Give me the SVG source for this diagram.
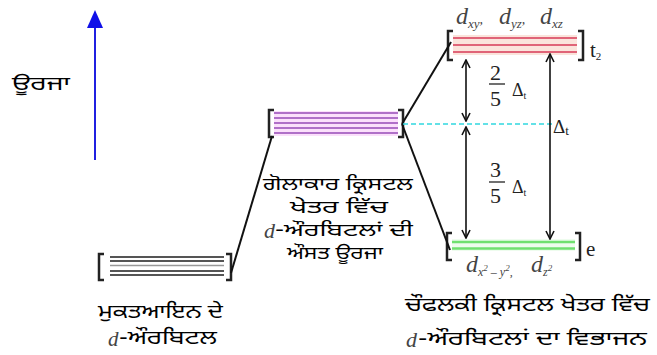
<svg xmlns="http://www.w3.org/2000/svg" width="657" height="355" viewBox="0 0 657 355">
<defs>
<style>
.pa{font-family:"Noto Sans Gurmukhi","Lohit Gurmukhi","Noto Sans","DejaVu Sans",sans-serif;font-size:19px;fill:#000}
.pm{font-size:18px}
.it{font-family:"Liberation Serif",serif;font-style:italic;fill:#444}
.sr{font-family:"Liberation Serif",serif;fill:#222}
.br{fill:none;stroke:#222;stroke-width:2.5}
.cn{stroke:#111;stroke-width:2;fill:none}
.ar{stroke:#111;stroke-width:1.6;fill:none}
</style>
<marker id="ah" viewBox="0 0 10 10" refX="9" refY="5" markerWidth="10" markerHeight="10" markerUnits="userSpaceOnUse" orient="auto-start-reverse">
<path d="M1,1 L9,5 L1,9" fill="none" stroke="#111" stroke-width="1.6"/>
</marker>
</defs>
<rect width="657" height="355" fill="#fff"/>

<g id="energy-axis">
<line x1="95" y1="160" x2="95" y2="26" stroke="#2020e0" stroke-width="2"/>
<polygon points="95,10 87,28 103,28" fill="#1010e8"/>
<text class="pa" x="12" y="90" font-size="22" textLength="58" lengthAdjust="spacingAndGlyphs">ਊਰਜਾ</text>
</g>

<g id="free-ion">
<path class="br" d="M104,254 H99 V280 H104"/>
<path class="br" d="M226,254 H231 V280 H226"/>
<g stroke="#555" stroke-width="2.2">
<line x1="110" y1="257" x2="224" y2="257"/>
<line x1="110" y1="261" x2="224" y2="261"/>
<line x1="110" y1="265.5" x2="224" y2="265.5" stroke="#999" stroke-width="1.4"/>
<line x1="110" y1="271" x2="224" y2="271"/>
<line x1="110" y1="275" x2="224" y2="275"/>
</g>
<text class="pa" x="98" y="318" textLength="125" lengthAdjust="spacingAndGlyphs">ਮੁਕਤਆਇਨ ਦੇ</text>
<text class="it" x="108" y="346" font-size="21">d</text>
<text class="pa" x="119" y="344" textLength="98" lengthAdjust="spacingAndGlyphs">-ਔਰਬਿਟਲ</text>
</g>

<g id="spherical">
<path class="br" d="M274,110 H269 V137 H274"/>
<path class="br" d="M398,110 H403 V137 H398"/>
<rect x="274" y="111" width="124" height="25" fill="#fbe0fb"/>
<g stroke="#b070c8" stroke-width="2">
<line x1="274" y1="113" x2="398" y2="113"/>
<line x1="274" y1="118" x2="398" y2="118"/>
<line x1="274" y1="123" x2="398" y2="123"/>
<line x1="274" y1="128" x2="398" y2="128"/>
<line x1="274" y1="133" x2="398" y2="133"/>
</g>
<text class="pa pm" x="263" y="190" textLength="150" lengthAdjust="spacingAndGlyphs">ਗੋਲਾਕਾਰ ਕ੍ਰਿਸਟਲ</text>
<text class="pa pm" x="290" y="213" textLength="98" lengthAdjust="spacingAndGlyphs">ਖੇਤਰ ਵਿੱਚ</text>
<text class="it" x="264" y="238" font-size="22">d</text>
<text class="pa pm" x="275" y="236" textLength="138" lengthAdjust="spacingAndGlyphs">-ਔਰਬਿਟਲਾਂ ਦੀ</text>
<text class="pa pm" x="287" y="259" textLength="96" lengthAdjust="spacingAndGlyphs">ਔਸਤ ਊਰਜਾ</text>
</g>

<g id="t2">
<path class="br" d="M453,31 H448 V60 H453"/>
<path class="br" d="M578,31 H583 V60 H578"/>
<rect x="453" y="35" width="124" height="20" fill="#fbe4dc"/>
<g stroke="#e06478" stroke-width="2.2">
<line x1="453" y1="38" x2="577" y2="38"/>
<line x1="453" y1="45" x2="577" y2="45"/>
<line x1="453" y1="52" x2="577" y2="52"/>
</g>
<text class="it" x="456" y="24" font-size="24">d<tspan font-size="13" dy="4">xy</tspan><tspan dy="-4" font-size="14">,</tspan></text>
<text class="it" x="499" y="24" font-size="24">d<tspan font-size="13" dy="4">yz</tspan><tspan dy="-4" font-size="14">,</tspan></text>
<text class="it" x="540" y="24" font-size="24">d<tspan font-size="13" dy="4">xz</tspan></text>
<text class="sr" x="590" y="57" font-size="21">t<tspan font-size="11" dy="3">2</tspan></text>
</g>

<g id="eg">
<path class="br" d="M452,233 H447 V260 H452"/>
<path class="br" d="M575,233 H580 V260 H575"/>
<rect x="452" y="239" width="123" height="12" fill="#eefcee"/>
<g stroke="#70e070" stroke-width="2.4">
<line x1="452" y1="242" x2="575" y2="242"/>
<line x1="452" y1="248.5" x2="575" y2="248.5"/>
</g>
<text class="sr" x="586" y="256" font-size="21">e</text>
<text class="it" x="466" y="272" font-size="24">d<tspan font-size="12" dy="4">x</tspan><tspan font-size="9" dy="-5">2</tspan><tspan font-size="12" dy="5"> – y</tspan><tspan font-size="9" dy="-5">2</tspan><tspan font-size="12" dy="5">,</tspan></text>
<text class="it" x="531" y="272" font-size="24">d<tspan font-size="12" dy="4">z</tspan><tspan font-size="9" dy="-5">2</tspan></text>
</g>

<g id="splitting-labels">
<text class="pa" x="405" y="311" textLength="245" lengthAdjust="spacingAndGlyphs">ਚੌਫਲਕੀ ਕ੍ਰਿਸਟਲ ਖੇਤਰ ਵਿੱਚ</text>
<text class="it" x="406" y="347" font-size="22">d</text>
<text class="pa" x="418" y="345" textLength="229" lengthAdjust="spacingAndGlyphs">-ਔਰਬਿਟਲਾਂ ਦਾ ਵਿਭਾਜਨ</text>
<text class="sr" x="490" y="80" font-size="22">2</text>
<line x1="489" y1="84" x2="505" y2="84" stroke="#222" stroke-width="1.3"/>
<text class="sr" x="490" y="106" font-size="22">5</text>
<text class="sr" x="512" y="96" font-size="18">Δ<tspan font-size="10" dy="3">t</tspan></text>
<text class="sr" x="490" y="177" font-size="22">3</text>
<line x1="489" y1="182" x2="505" y2="182" stroke="#222" stroke-width="1.3"/>
<text class="sr" x="490" y="203" font-size="22">5</text>
<text class="sr" x="512" y="193" font-size="18">Δ<tspan font-size="10" dy="3">t</tspan></text>
<text class="sr" x="553" y="133" font-size="19">Δ<tspan font-size="13" dy="2">t</tspan></text>
</g>

<g id="connectors">
<line class="cn" x1="231" y1="273" x2="272" y2="136"/>
<line class="cn" x1="402" y1="124" x2="451" y2="42"/>
<line class="cn" x1="402" y1="124" x2="450" y2="250"/>
<line x1="403" y1="124" x2="553" y2="124" stroke="#30d8e0" stroke-width="1.6" stroke-dasharray="5,3"/>
<line class="ar" x1="466" y1="60" x2="466" y2="121" marker-start="url(#ah)" marker-end="url(#ah)"/>
<line class="ar" x1="466" y1="127" x2="466" y2="238" marker-start="url(#ah)" marker-end="url(#ah)"/>
<line class="ar" x1="550" y1="54" x2="550" y2="239" marker-start="url(#ah)" marker-end="url(#ah)"/>
</g>
</svg>
